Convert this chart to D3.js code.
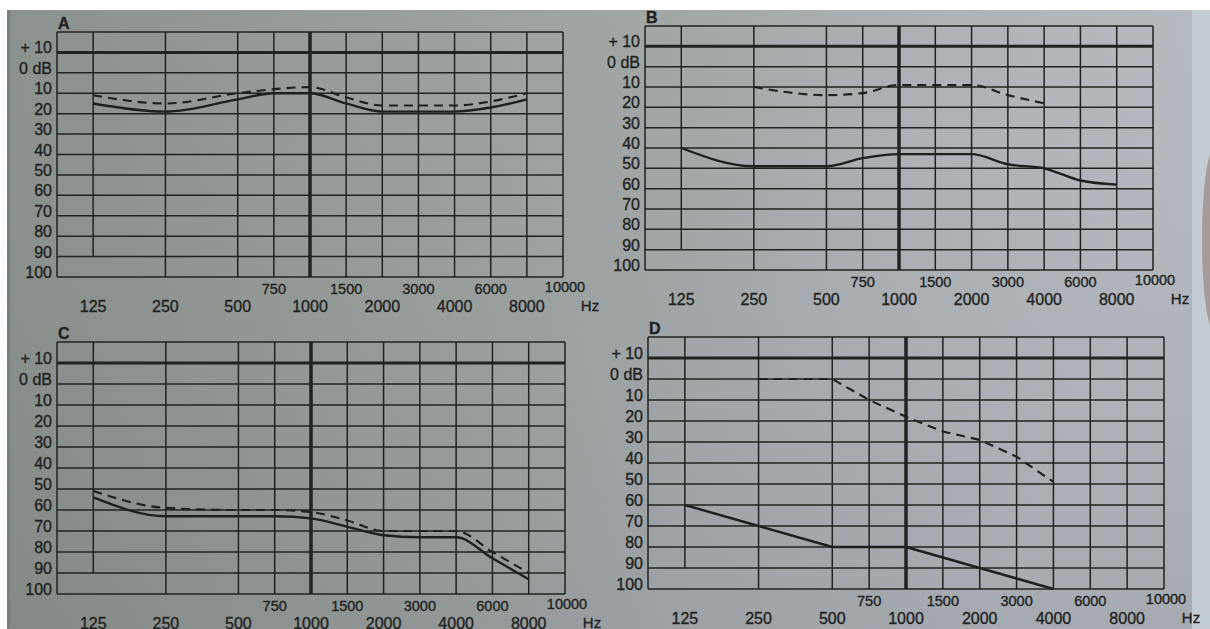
<!DOCTYPE html>
<html><head><meta charset="utf-8">
<script src="https://cdn.jsdelivr.net/npm/d3@7"></script>
<style>html,body{margin:0;padding:0;background:#fff;overflow:hidden}</style>
</head><body>
<svg id="c" width="1210" height="629"></svg>
<script>
// ---------- data ----------
const gridFreqs = [125, 250, 500, 750, 1000, 1500, 2000, 3000, 4000, 6000, 8000];
const topRowLabels = [750, 1500, 3000, 6000, 10000];
const bottomRowLabels = [125, 250, 500, 1000, 2000, 4000, 8000];
const unitLabel = "Hz";
const levelLines = [-10, 0, 10, 20, 30, 40, 50, 60, 70, 80, 90, 100];
const levelLabels = ["+ 10", "0 dB", "10", "20", "30", "40", "50", "60", "70", "80", "90", "100"];
const panelNames = ["A", "B", "C", "D"];

const aFreqs = [125, 250, 500, 750, 1000, 1500, 2000, 3000, 4000, 6000, 8000];
const aSolid = [15, 19, 13, 10, 10, 15, 19, 19, 19, 17, 13];
const aDashed = [11, 15, 10, 8, 7, 12, 16, 16, 16, 14, 10];

const bSolidFreqs = [125, 250, 500, 750, 1000, 1500, 2000, 3000, 4000, 6000, 8000];
const bSolid = [40, 49, 49, 45, 43, 43, 43, 48, 50, 56, 58];
const bDashedFreqs = [250, 500, 750, 1000, 1500, 2000, 3000, 4000];
const bDashed = [10, 14, 13, 9, 9, 9, 14, 18];

const cFreqs = [125, 250, 500, 750, 1000, 1500, 2000, 3000, 4000, 6000, 8000];
const cSolid = [54, 63, 63, 63, 64, 68, 72, 73, 73, 83, 93];
const cDashed = [51, 59, 60, 60, 61, 65, 70, 70, 70, 80, 90];

const dSolidFreqs = [125, 250, 500, 750, 1000, 1500, 2000, 3000, 4000];
const dSolid = [60, 70, 80, 80, 80, 85, 90, 95, 100];
const dDashedFreqs = [250, 500, 750, 1000, 1500, 2000, 3000, 4000];
const dDashed = [0, 0, 10, 18, 25, 29, 37, 49];

// ---------- layout ----------
const panels = [
  {name: panelNames[0], L: 57, R: 563, T: 32, B: 277, smooth: true,
   series: [{f: aFreqs, v: aSolid, dashed: false}, {f: aFreqs, v: aDashed, dashed: true}]},
  {name: panelNames[1], L: 645, R: 1153, T: 26, B: 270, smooth: true,
   series: [{f: bSolidFreqs, v: bSolid, dashed: false}, {f: bDashedFreqs, v: bDashed, dashed: true}]},
  {name: panelNames[2], L: 57, R: 565, T: 342, B: 594, smooth: true,
   series: [{f: cFreqs, v: cSolid, dashed: false}, {f: cFreqs, v: cDashed, dashed: true}]},
  {name: panelNames[3], L: 648, R: 1164, T: 337, B: 589, smooth: false,
   series: [{f: dSolidFreqs, v: dSolid, dashed: false}, {f: dDashedFreqs, v: dDashed, dashed: true}]}
];

const INK = "#1f2321";
const FONT = "'Liberation Sans', Arial, Helvetica, sans-serif";

const svg = d3.select("#c");
const defs = svg.append("defs");
const bg = defs.append("linearGradient").attr("id", "paper").attr("x1", 0).attr("x2", 1).attr("y1", 0).attr("y2", 0.25);
bg.append("stop").attr("offset", "0%").attr("stop-color", "#838b86");
bg.append("stop").attr("offset", "25%").attr("stop-color", "#8f9792");
bg.append("stop").attr("offset", "50%").attr("stop-color", "#9aa19f");
bg.append("stop").attr("offset", "75%").attr("stop-color", "#a9afb3");
bg.append("stop").attr("offset", "100%").attr("stop-color", "#b3b9c0");
const shade = defs.append("linearGradient").attr("id", "shade").attr("x1", 0).attr("x2", 0).attr("y1", 0).attr("y2", 1);
shade.append("stop").attr("offset", "0%").attr("stop-color", "#ffffff").attr("stop-opacity", 0.06);
shade.append("stop").attr("offset", "100%").attr("stop-color", "#000000").attr("stop-opacity", 0.08);

svg.append("rect").attr("width", 1210).attr("height", 629).attr("fill", "#ffffff");
svg.append("rect").attr("x", 7).attr("y", 10).attr("width", 1203).attr("height", 619).attr("fill", "url(#paper)");
svg.append("rect").attr("x", 7).attr("y", 10).attr("width", 1203).attr("height", 619).attr("fill", "url(#shade)");
svg.append("rect").attr("x", 7).attr("y", 10).attr("width", 3).attr("height", 619).attr("fill", "#6f7773").attr("opacity", 0.6);
svg.append("rect").attr("x", 1192).attr("y", 10).attr("width", 18).attr("height", 619).attr("fill", "#c3ccd2");
svg.append("ellipse").attr("cx", 1216).attr("cy", 240).attr("rx", 14).attr("ry", 95).attr("fill", "#9e8f8c").attr("opacity", 0.8);

const octave = f => Math.round(2 * Math.log2(f / 125)) / 2;

function txt(sel, size) {
  return sel.attr("font-family", FONT).attr("font-size", size)
    .attr("fill", INK).attr("stroke", INK).attr("stroke-width", 0.35);
}

panels.forEach(p => {
  const g = svg.append("g");
  const x = d3.scaleLinear().domain([-0.5, 6.5]).range([p.L, p.R]);
  const y = d3.scaleLinear().domain([-20, 100]).range([p.T, p.B]);

  // horizontal grid
  const hLevels = [-20].concat(levelLines);
  g.selectAll("line.h").data(hLevels).join("line")
    .attr("x1", p.L).attr("x2", p.R)
    .attr("y1", d => y(d)).attr("y2", d => y(d))
    .attr("stroke", INK).attr("stroke-width", d => d === -10 ? 3 : 1.5);

  // vertical grid
  const vEdges = [-0.5, 6.5];
  g.selectAll("line.e").data(vEdges).join("line")
    .attr("x1", d => x(d)).attr("x2", d => x(d))
    .attr("y1", y(-20)).attr("y2", y(100))
    .attr("stroke", INK).attr("stroke-width", 1.5);
  g.selectAll("line.v").data(gridFreqs).join("line")
    .attr("x1", d => x(octave(d))).attr("x2", d => x(octave(d)))
    .attr("y1", y(-20)).attr("y2", d => d === 125 ? y(90) : y(100))
    .attr("stroke", INK).attr("stroke-width", d => d === 1000 ? 3.5 : 1.5);

  // level labels
  txt(g.selectAll("text.yl").data(levelLines).join("text")
    .attr("x", p.L - 5).attr("y", d => y(d) + 1)
    .attr("text-anchor", "end"), 16).text((d, i) => levelLabels[i]);

  // panel letter
  txt(g.append("text").attr("x", p.L + 1).attr("y", p.T - 3)
    .attr("font-weight", "bold"), 16).text(p.name);

  // frequency labels
  txt(g.selectAll("text.xt").data(topRowLabels).join("text")
    .attr("x", d => x(octave(d)) + (d === 10000 ? 2 : 0))
    .attr("y", d => p.B + (d === 10000 ? 15 : 17))
    .attr("text-anchor", "middle"), 14.5).text(d => d);
  txt(g.selectAll("text.xb").data(bottomRowLabels).join("text")
    .attr("x", d => x(octave(d))).attr("y", p.B + 35)
    .attr("text-anchor", "middle"), 16).text(d => d);
  txt(g.append("text").attr("x", p.R + 27).attr("y", p.B + 34)
    .attr("text-anchor", "middle"), 15).text(unitLabel);

  // curves
  const line = d3.line()
    .x(d => x(octave(d[0]))).y(d => y(d[1]))
    .curve(p.smooth ? d3.curveMonotoneX : d3.curveLinear);
  p.series.forEach(s => {
    g.append("path").datum(s.f.map((f, i) => [f, s.v[i]]))
      .attr("d", line).attr("fill", "none")
      .attr("stroke", "#1c201e").attr("stroke-width", s.dashed ? 2.1 : 2.4)
      .attr("stroke-dasharray", s.dashed ? "9 6" : null)
      .attr("stroke-linejoin", "round");
  });
});
</script>
</body></html>
